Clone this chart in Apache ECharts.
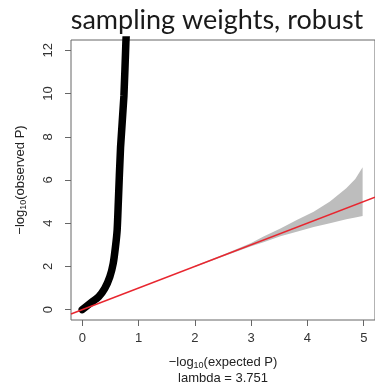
<!DOCTYPE html>
<html>
<head>
<meta charset="utf-8">
<script src="https://cdn.jsdelivr.net/npm/echarts@6/dist/echarts.min.js"></script>
<style>
  html, body { margin: 0; padding: 0; background: #fff; }
  #chart { width: 375px; height: 386px; }
</style>
</head>
<body>
<div id="chart"></div>
<script>
// ---- data ----
const xTicks = [0, 1, 2, 3, 4, 5];
const yTicks = [0, 2, 4, 6, 8, 10, 12];

// QQ points: expected -log10 P vs observed -log10 P
const expectedP = [0.00, 0.14, 0.29, 0.40, 0.49, 0.55, 0.59, 0.62, 0.64, 0.68, 0.74, 0.775, 0.79];
const observedP = [0.00, 0.29, 0.59, 0.98, 1.52, 2.14, 2.91, 3.69, 4.94, 7.50, 9.89, 12.38, 13.2];

// confidence band
const bandX     = [2.0, 2.5, 3.0, 3.22, 3.52, 3.81, 4.11, 4.40, 4.69, 4.85, 4.98];
const bandUpper = [2.03, 2.54, 3.08, 3.38, 3.76, 4.15, 4.53, 5.00, 5.62, 6.05, 6.59];
const bandLower = [1.97, 2.46, 2.93, 3.12, 3.40, 3.61, 3.82, 4.00, 4.18, 4.26, 4.33];

// reference line y = x
const refX = [-0.2, 5.2];
const refY = [-0.2, 5.2];

const xRange = [-0.2, 5.2];
const yRange = [-0.48, 12.48];

const titleText = 'sampling weights, robust';
const lambdaText = 'lambda = 3.751';

// ---- chart ----
const chart = echarts.init(document.getElementById('chart'), null, { renderer: 'canvas' });

const qqData = expectedP.map((x, i) => [x, observedP[i]]);
const refData = refX.map((x, i) => [x, refY[i]]);
const bandPoly = bandX.map((x, i) => [x, bandUpper[i]])
  .concat(bandX.slice().reverse().map((x, i) => [x, bandLower[bandX.length - 1 - i]]));

const axisColor = '#666';
const labelFont = { fontFamily: 'Liberation Sans', fontSize: 13, color: '#333' };

const option = {
  animation: false,
  backgroundColor: '#fff',
  grid: {
    left: 71, top: 40, width: 307, height: 280,
    show: true, borderColor: axisColor, borderWidth: 1, backgroundColor: 'transparent'
  },
  xAxis: {
    type: 'value', min: xRange[0], max: xRange[1],
    axisLine: { show: false, onZero: false },
    splitLine: { show: false },
    axisTick: { show: true, inside: false, customValues: xTicks, length: 6, lineStyle: { color: axisColor } },
    axisLabel: Object.assign({ customValues: xTicks, margin: 12 }, labelFont)
  },
  yAxis: {
    type: 'value', min: yRange[0], max: yRange[1],
    axisLine: { show: false, onZero: false },
    splitLine: { show: false },
    axisTick: { show: true, inside: false, customValues: yTicks, length: 6, lineStyle: { color: axisColor } },
    axisLabel: Object.assign({ customValues: yTicks, margin: 16, rotate: 90 }, labelFont)
  },
  series: [
    {
      type: 'custom',
      z: 1,
      renderItem: function (params, api) {
        const pts = bandPoly.map(p => api.coord(p));
        return {
          type: 'polygon',
          shape: { points: pts },
          style: { fill: '#bdbdbd', stroke: 'none' }
        };
      },
      clip: true,
      data: [0]
    },
    {
      type: 'line',
      z: 2,
      data: qqData,
      smooth: 0.2,
      showSymbol: false,
      clip: true,
      lineStyle: { color: '#000', width: 7.5, cap: 'round', join: 'round' }
    },
    {
      type: 'line',
      z: 3,
      data: refData,
      showSymbol: false,
      clip: true,
      lineStyle: { color: '#e8262f', width: 1.5 }
    }
  ],
  graphic: [
    {
      type: 'text',
      x: 217, y: 20,
      style: {
        text: titleText, fontFamily: 'Lato', fontSize: 27, fill: '#1a1a1a',
        align: 'center', verticalAlign: 'middle'
      }
    },
    {
      type: 'text',
      x: 20, y: 180, rotation: Math.PI / 2,
      style: {
        text: '{a|\u2212log}{s|10}{a|(observed P)}',
        align: 'center', verticalAlign: 'middle',
        rich: {
          a: { fontFamily: 'Liberation Sans', fontSize: 13, fill: '#222', lineHeight: 16 },
          s: { fontFamily: 'Liberation Sans', fontSize: 9, fill: '#222', lineHeight: 16, verticalAlign: 'bottom', padding: [4, 0, 0, 0] }
        }
      }
    },
    {
      type: 'text',
      x: 223, y: 362,
      style: {
        text: '{a|\u2212log}{s|10}{a|(expected P)}',
        align: 'center', verticalAlign: 'middle',
        rich: {
          a: { fontFamily: 'Liberation Sans', fontSize: 13, fill: '#222', lineHeight: 16 },
          s: { fontFamily: 'Liberation Sans', fontSize: 9, fill: '#222', lineHeight: 16, verticalAlign: 'bottom', padding: [4, 0, 0, 0] }
        }
      }
    },
    {
      type: 'text',
      x: 223, y: 378,
      style: {
        text: lambdaText, align: 'center', verticalAlign: 'middle',
        fontFamily: 'Liberation Sans', fontSize: 13, fill: '#222'
      }
    }
  ]
};

chart.setOption(option);
</script>
</body>
</html>
